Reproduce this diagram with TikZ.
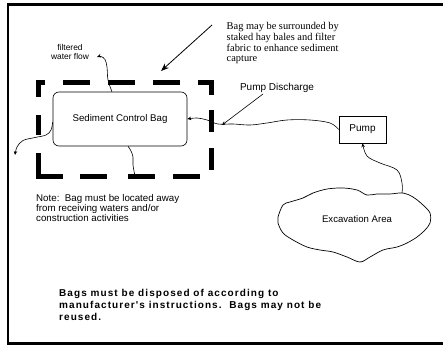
\documentclass[tikz,border=0pt]{standalone}
\usepackage{fontspec}
\setmainfont{Liberation Sans}
\newfontfamily\serifnote{Liberation Serif}
\newfontfamily\boldtrack{Liberation Sans}[LetterSpace=10.7]
\usetikzlibrary{arrows.meta,calc}
\begin{document}
\begin{tikzpicture}[x=1pt,y=-1pt,
  conn/.style={line width=0.6pt},
  tip/.style={-{Stealth[length=4pt,width=3.5pt]}},
  bigtip/.style={-{Stealth[length=8pt,width=6pt]}},
  bagdash/.style={line width=5pt, line cap=butt},
  boxnode/.style={draw, line width=0.6pt, inner sep=0pt},
  plain/.style={inner sep=0pt},
]
\useasboundingbox (0,0) rectangle (443,345);
\clip (0,0) rectangle (443,345);
\draw[line width=2.5pt] (8,4.5) rectangle (460,343.5);

% dashed enclosure (staked hay bales)
\draw[bagdash] (38,97) -- (38,82) -- (45,82);
\draw[bagdash] (63,82) -- (90,82);
\draw[bagdash] (108,82) -- (135,82);
\draw[bagdash] (153,82) -- (180,82);
\draw[bagdash] (198,82) -- (211,82) -- (211,95);
\draw[bagdash] (211,110) -- (211,132);
\draw[bagdash] (211,148) -- (211,170);
\draw[bagdash] (38,115) -- (38,135);
\draw[bagdash] (38,153) -- (38,176) -- (63,176);
\draw[bagdash] (80,176) -- (107,176);
\draw[bagdash] (128,176) -- (155,176);
\draw[bagdash] (173,176) -- (200,176);

% nodes
\node[boxnode, rounded corners=6pt, minimum width=134pt, minimum height=54pt,
      font=\fontsize{9.7}{11}\selectfont] (bag) at (120,119) {Sediment Control Bag};
\node[boxnode, minimum width=47pt, minimum height=27pt,
      font=\fontsize{10}{12}\selectfont] (pump) at (362.5,129.5) {Pump};
\node[plain, font=\fontsize{9.6}{11}\selectfont] (exc) at (357,219) {Excavation Area};
\node[plain, font=\fontsize{10}{12}\selectfont] (pd) at (277,88) {Pump Discharge};
\node[plain, align=center, font=\fontsize{8.4}{9}\selectfont] (flow) at (70,51.5) {filtered\\water flow};
\node[plain, anchor=north west, align=left, font=\serifnote\fontsize{10.4}{10.6}\selectfont]
  (hay) at (226.5,22.5) {Bag may be surrounded by\\staked hay bales and filter\\fabric to enhance sediment\\capture};
\node[plain, anchor=north west, align=left, font=\fontsize{9.75}{10}\selectfont]
  (note) at (36,194.5) {Note:\ \ Bag must be located away\\from receiving waters and/or\\construction activities};
\node[plain, anchor=north west, align=left, font=\boldtrack\bfseries\fontsize{10}{12}\selectfont]
  (dispose) at (59,289) {Bags must be disposed of according to\\manufacturer's instructions.\ \ Bags may not be\\reused.};

% excavation area outline
\draw[line width=0.7pt] plot[smooth cycle, tension=0.55] coordinates {
  (278,217) (283,205) (290,202) (303,198) (313,193) (327,189) (343,188) (357,190)
  (367,195) (377,194) (390,194) (403,193) (413,197) (423,205) (430,213) (430,223)
  (425,230) (417,237) (407,243) (397,247) (383,250) (370,257) (360,262) (347,257)
  (333,252) (320,250) (307,247) (293,240) (283,233) (278,223)};

% coordinates for free ends
\coordinate (cloudtop) at (402,193);
\coordinate (hayfrom) at (212,25);
\coordinate (hayto) at (161,71);
\coordinate (pdfrom) at (263,94);
\coordinate (pdto) at (222,125);
\coordinate (flowend) at (97,57);
\coordinate (leftend) at (15,155);
\coordinate (bottomend) at (135,176);

% connectors
\draw[conn,tip] plot[smooth, tension=0.6] coordinates {(pump.west) (330,123) (310,120) (287,120)
  (267,123) (250,125) (233,124) (218,124) (207,120) (197,118) (bag.east)};
\draw[conn,tip] plot[smooth, tension=0.6] coordinates {(cloudtop) (402,183) (397,170) (380,163)
  (367,156) (pump.south)};
\draw[conn,tip] plot[smooth, tension=0.6] coordinates {($(bag.north)+(-8,0)$) (108,80) (107,67)
  (105,59.5) (101,56.5) (flowend)};
\draw[conn,tip] plot[smooth, tension=0.6] coordinates {($(bag.west)+(0,3)$) (51,130) (46,135)
  (35,137.5) (23,140.5) (17,147) (leftend)};
\draw[conn] plot[smooth, tension=0.6] coordinates {($(bag.south)+(8,0)$) (131,151) (133,157)
  (133,165) (bottomend)};
\draw[line width=0.8pt, bigtip] (hayfrom) -- (hayto);
\draw[conn, tip] (pdfrom) -- (pdto);
\end{tikzpicture}
\end{document}
